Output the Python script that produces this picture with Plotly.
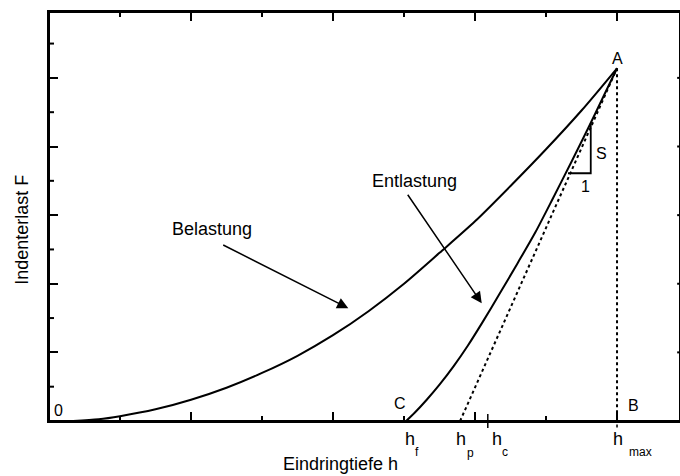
import plotly.graph_objects as go

# ---- data (x in tick units, y in tick units) ----
load_h = [0.34, 0.7, 1.0, 1.5, 2.0, 2.5, 3.0, 3.5, 4.0, 4.5, 5.0, 5.5, 6.0, 6.5, 7.0, 7.5, 8.0]
load_F = [0.0, 0.05, 0.14, 0.34, 0.62, 0.97, 1.40, 1.90, 2.50, 3.20, 4.00, 4.90, 5.82, 6.85, 7.92, 9.05, 10.28]

unload_h = [5.03, 5.15, 5.32, 5.5, 5.7, 5.9, 6.1, 6.35, 6.6, 6.85, 7.1, 7.35, 7.6, 7.8, 8.0]
unload_F = [0.0, 0.24, 0.62, 1.06, 1.6, 2.2, 2.86, 3.72, 4.6, 5.5, 6.5, 7.52, 8.56, 9.42, 10.28]

h_f = 5.03
h_p = 5.79
h_c = 6.18
h_max = 8.0
F_max = 10.28

# slope triangle (S / 1)
tri_h = [7.31, 7.63, 7.63]
tri_F = [7.22, 7.22, 8.68]

x_range = [0, 8.887]
y_range = [0, 11.92]
x_major = [2, 4, 6, 8]
x_minor = [1, 3, 5, 7]
y_major = [2, 4, 6, 8, 10]
y_minor = [1, 3, 5, 7, 9, 11]

FONT = "Liberation Sans, Arial, sans-serif"
BLACK = "#000000"

fig = go.Figure()

fig.add_trace(go.Scatter(x=load_h, y=load_F, mode="lines", line=dict(color=BLACK, width=2, shape="spline", smoothing=0.8),
                         hoverinfo="skip", showlegend=False))
fig.add_trace(go.Scatter(x=unload_h, y=unload_F, mode="lines", line=dict(color=BLACK, width=2, shape="spline", smoothing=0.8),
                         hoverinfo="skip", showlegend=False))
fig.add_trace(go.Scatter(x=[h_p, h_max], y=[0, F_max], mode="lines", line=dict(color=BLACK, width=2, dash="dot"),
                         hoverinfo="skip", showlegend=False))
fig.add_trace(go.Scatter(x=[h_max, h_max], y=[F_max, 0], mode="lines", line=dict(color=BLACK, width=2, dash="dot"),
                         hoverinfo="skip", showlegend=False))
fig.add_trace(go.Scatter(x=tri_h, y=tri_F, mode="lines", line=dict(color=BLACK, width=1.8),
                         hoverinfo="skip", showlegend=False))

X0, XS = 49.0, 71.0      # pixel of h=0, pixels per x unit
Y0, YS = 421.0, 34.3     # pixel of F=0, pixels per y unit
PW, PH = 631.0, 409.0    # plot area size

def px2x(px):
    return (px - X0) / XS

def py2y(py):
    return (Y0 - py) / YS

def px2paper(px):
    return (px - X0) / PW

def py2paper(py):
    return (Y0 - py) / PH

ann = []
ann.append(dict(text="Eindringtiefe h", xref="paper", yref="paper", x=px2paper(340.5), y=py2paper(464),
                showarrow=False, font=dict(size=18, family=FONT, color=BLACK), xanchor="center", yanchor="middle"))
ann.append(dict(text="Indenterlast F", xref="paper", yref="paper", x=px2paper(21.7), y=py2paper(230), textangle=-90,
                showarrow=False, font=dict(size=18, family=FONT, color=BLACK), xanchor="center", yanchor="middle"))
ann.append(dict(text="Belastung", x=px2x(211.5), y=py2y(229), showarrow=False,
                font=dict(size=18, family=FONT, color=BLACK)))
ann.append(dict(text="Entlastung", x=px2x(414.5), y=py2y(180.7), showarrow=False,
                font=dict(size=18, family=FONT, color=BLACK)))
ann.append(dict(text="", x=px2x(348.3), y=py2y(308.3), ax=px2x(221.7), ay=py2y(244.3),
                axref="x", ayref="y", showarrow=True, arrowhead=2, arrowsize=1.5, arrowwidth=1.5,
                arrowcolor=BLACK, standoff=0))
ann.append(dict(text="", x=px2x(481.7), y=py2y(303.3), ax=px2x(406.7), ay=py2y(193.3),
                axref="x", ayref="y", showarrow=True, arrowhead=2, arrowsize=1.5, arrowwidth=1.5,
                arrowcolor=BLACK, standoff=0))
for txt, px, py, sz in [("0", 58, 410, 16), ("A", 617, 59, 16), ("B", 633, 406, 16), ("C", 400, 404, 16),
                        ("S", 601.7, 153.3, 16), ("1", 585, 186.7, 16)]:
    ann.append(dict(text=txt, x=px2x(px), y=py2y(py), showarrow=False,
                    font=dict(size=sz, family=FONT, color=BLACK)))
for px, py, sz, txt in [(409.5, 439, 18, "h"), (417, 452, 12, "f"),
                        (461, 439, 18, "h"), (470, 453, 12, "p"),
                        (497, 439, 18, "h"), (505, 452, 12, "c"),
                        (618, 439, 18, "h"), (640, 452, 12, "max")]:
    ann.append(dict(text=txt, xref="paper", x=px2paper(px), yref="paper", y=py2paper(py), showarrow=False,
                    xanchor="center", yanchor="middle",
                    font=dict(size=sz, family=FONT, color=BLACK)))

shapes = [
    # full frame (left, bottom, top; right edge falls at the picture border)
    dict(type="rect", xref="paper", yref="paper", x0=0, x1=1, y0=0, y1=1,
         line=dict(color=BLACK, width=2), fillcolor="rgba(0,0,0,0)"),
    dict(type="line", xref="x", yref="paper", x0=h_c, x1=h_c, y0=-0.0171, y1=0.0171,
         line=dict(color=BLACK, width=1.5)),
    dict(type="line", xref="x", yref="paper", x0=h_max, x1=h_max, y0=-0.016, y1=0,
         line=dict(color=BLACK, width=1.5, dash="dot")),
]
for v in x_major:
    shapes.append(dict(type="line", xref="x", yref="paper", x0=v, x1=v, y0=1 - 9 / PH, y1=1,
                       line=dict(color=BLACK, width=2)))
for v in x_minor:
    shapes.append(dict(type="line", xref="x", yref="paper", x0=v, x1=v, y0=1 - 5 / PH, y1=1,
                       line=dict(color=BLACK, width=2)))
    shapes.append(dict(type="line", xref="x", yref="paper", x0=v, x1=v, y0=0, y1=5 / PH,
                       line=dict(color=BLACK, width=2)))
for v in y_minor:
    shapes.append(dict(type="line", xref="paper", yref="y", x0=0, x1=5 / PW, y0=v, y1=v,
                       line=dict(color=BLACK, width=2)))
for v in y_major:
    shapes.append(dict(type="line", xref="paper", yref="y", x0=0.9955, x1=1.0, y0=v, y1=v,
                       line=dict(color=BLACK, width=2)))

fig.update_layout(
    width=680, height=476, autosize=False,
    margin=dict(l=49, r=0, t=12, b=55),
    paper_bgcolor="white", plot_bgcolor="white",
    font=dict(family=FONT, color=BLACK),
    annotations=ann, shapes=shapes,
    xaxis=dict(range=x_range, showgrid=False, zeroline=False, showline=True, linecolor=BLACK, linewidth=2,
               mirror=True, ticks="inside", ticklen=9, tickwidth=2, tickcolor=BLACK,
               tickmode="array", tickvals=x_major, showticklabels=False),
    yaxis=dict(range=y_range, showgrid=False, zeroline=False, showline=True, linecolor=BLACK, linewidth=2,
               mirror=False, ticks="inside", ticklen=9, tickwidth=2, tickcolor=BLACK,
               tickmode="array", tickvals=y_major, showticklabels=False),
    showlegend=False,
)

fig.write_html("out.html")
